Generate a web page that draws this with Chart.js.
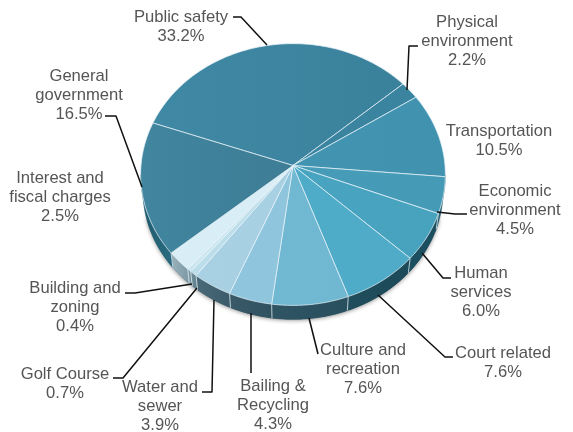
<!DOCTYPE html>
<html>
<head>
<meta charset="utf-8">
<style>
html,body{margin:0;padding:0;background:#fff}
#wrap{width:573px;height:432px;position:relative}
</style>
<script src="https://cdn.jsdelivr.net/npm/chart.js@4/dist/chart.umd.js"></script>
</head>
<body>
<div id="wrap"><canvas id="c" width="573" height="432"></canvas></div>
<script>
// Budget shares by function, clockwise from Public safety
const categories = [
  ['Public safety'],
  ['Physical', 'environment'],
  ['Transportation'],
  ['Economic', 'environment'],
  ['Human', 'services'],
  ['Court related'],
  ['Culture and', 'recreation'],
  ['Bailing &', 'Recycling'],
  ['Water and', 'sewer'],
  ['Golf Course'],
  ['Building and', 'zoning'],
  ['Interest and', 'fiscal charges'],
  ['General', 'government']
];
const shares = [33.2, 2.2, 10.5, 4.5, 6.0, 7.6, 7.6, 4.3, 3.9, 0.7, 0.4, 2.5, 16.5];

// Top face colours: [left, right] of a horizontal gradient
const faceColors = [
  ['#4089a5', '#39809a'], ['#3a84a0', '#3a84a0'], ['#4496b4', '#4092af'],
  ['#489fbb', '#459ab6'], ['#49a6c2', '#47a2be'], ['#4fadc9', '#4fabc7'],
  ['#72b9d3', '#6fb6d1'], ['#92c7de', '#8cc3db'], ['#a9d1e3', '#a5cfe1'],
  ['#bcdeeb', '#bcdeeb'], ['#cbe6f0', '#cbe6f0'], ['#d9eef6', '#d6ecf5'],
  ['#41859f', '#39758a']
];
// Side wall colours: [left, right]
const wallColors = [
  ['#1d4f60', '#1d4f60'], ['#1d4f60', '#1d4f60'], ['#1f5a6e', '#1f5a6e'],
  ['#2a6478', '#1c5265'], ['#1c4f60', '#1a4d5e'], ['#1f4d5c', '#1c4a59'],
  ['#2f5463', '#29505f'], ['#3a5a69', '#2f5160'], ['#4b6a79', '#3b5b6a'],
  ['#71909d', '#627f8c'], ['#7d99a5', '#71909d'], ['#9ab2bc', '#7f9ba7'],
  ['#1d5a6e', '#2a6b80']
];

// Where each label block is centred and the first line's middle
const labelAnchors = [
  [181, 17], [467, 22.5], [499, 131.5], [515, 191.5], [481, 273.5], [503, 353.5],
  [363, 350.5], [273, 386.5], [160, 387.5], [65, 374.5], [75, 288.5], [60, 178.5], [79, 76.5]
];
// Leader lines from the label to the pie, one polyline per slice
const leaderPaths = [
  [[233, 17], [241, 17], [267, 45]],
  [[418, 46], [409, 46], [407, 90]],
  [],
  [[467, 214], [455, 214], [437, 212]],
  [[451, 278], [443, 278], [422, 253]],
  [[453, 357], [445, 357], [378, 295]],
  [[318, 354], [309, 318]],
  [[251, 373], [251, 313]],
  [[202, 392], [212, 392], [214, 300]],
  [[113, 378], [123, 378], [197, 288]],
  [[125, 293], [135, 293], [192, 284]],
  [],
  [[105, 116], [116, 116], [142, 187]]
];

// Tilted-disc projection: a circle seen in perspective
const TILT = 0.857;      // vertical squash of the disc
const KEYSTONE = -0.069; // how much the near edge is enlarged
const DEPTH = 16;        // thickness of the disc in pixels
const BASE_SCALE = 0.985; // the underside sits further away, so it looks smaller

function project(el, angle, radius, drop) {
  const u = Math.cos(angle), v = Math.sin(angle);
  const w = 1 + KEYSTONE * v;
  return [el.x + radius * u / w, el.y + radius * TILT * v / w + (drop || 0)];
}

function tracePath(ctx, el, from, to, radius, drop, first) {
  const steps = Math.max(2, Math.ceil(Math.abs(to - from) * 60));
  for (let i = 0; i <= steps; i++) {
    const p = project(el, from + (to - from) * i / steps, radius, drop);
    if (i === 0 && first) ctx.moveTo(p[0], p[1]); else ctx.lineTo(p[0], p[1]);
  }
}

class PerspectiveArc extends Chart.ArcElement {
  draw(ctx) {
    const index = this.$context.dataIndex;
    const R = this.outerRadius;
    ctx.save();

    // Visible part of the side wall: the lower half of the rim
    const lo = Math.max(this.startAngle, 0.07);
    const hi = Math.min(this.endAngle, Math.PI - 0.07);
    if (hi > lo) {
      const pa = project(this, lo, R), pb = project(this, hi, R);
      const wall = ctx.createLinearGradient(Math.min(pa[0], pb[0]), 0, Math.max(pa[0], pb[0]), 0);
      wall.addColorStop(0, wallColors[index][0]);
      wall.addColorStop(1, wallColors[index][1]);
      ctx.beginPath();
      tracePath(ctx, this, lo, hi, R, 0, true);
      tracePath(ctx, this, hi, lo, R * BASE_SCALE, DEPTH, false);
      ctx.closePath();
      ctx.fillStyle = wall;
      ctx.fill();
      ctx.strokeStyle = wall;
      ctx.lineWidth = 0.6;
      ctx.stroke();
      // Light seam where a slice boundary meets the wall
      if (this.startAngle > 0.07 && this.startAngle < Math.PI - 0.07) {
        const s = project(this, this.startAngle, R);
        const b = project(this, this.startAngle, R * BASE_SCALE, DEPTH);
        ctx.beginPath();
        ctx.moveTo(s[0], s[1]);
        ctx.lineTo(b[0], b[1]);
        ctx.strokeStyle = 'rgba(235,245,250,0.75)';
        ctx.lineWidth = 1;
        ctx.stroke();
      }
    }

    // Top face of the slice
    const face = ctx.createLinearGradient(this.x - R, 0, this.x + R, 0);
    face.addColorStop(0, faceColors[index][0]);
    face.addColorStop(1, faceColors[index][1]);
    ctx.beginPath();
    ctx.moveTo(this.x, this.y);
    tracePath(ctx, this, this.startAngle, this.endAngle, R, 0, false);
    ctx.closePath();
    ctx.fillStyle = face;
    ctx.fill();
    ctx.strokeStyle = 'rgba(232,243,248,0.8)';
    ctx.lineWidth = 0.9;
    ctx.stroke();
    ctx.restore();
  }
}
PerspectiveArc.id = 'perspectiveArc';

class PerspectivePie extends Chart.PieController {}
PerspectivePie.id = 'perspectivePie';
PerspectivePie.defaults = { dataElementType: 'perspectiveArc' };
Chart.register(PerspectiveArc, PerspectivePie);

// Soft shadow under the disc
const groundShadow = {
  id: 'groundShadow',
  beforeDatasetsDraw(chart) {
    const el = chart.getDatasetMeta(0).data[0];
    const ctx = chart.ctx;
    const R = el.outerRadius;
    ctx.save();
    ctx.shadowColor = 'rgba(0,0,0,0.45)';
    ctx.shadowBlur = 4;
    ctx.shadowOffsetY = 1;
    ctx.fillStyle = '#2a4f5e';
    ctx.beginPath();
    tracePath(ctx, el, 0.3, Math.PI - 0.3, R * BASE_SCALE, DEPTH, true);
    tracePath(ctx, el, Math.PI - 0.3, 0.3, R * 0.97, 0, false);
    ctx.closePath();
    ctx.fill();
    ctx.restore();
  }
};

// Category captions with their percentage, and the leader lines
const sliceLabels = {
  id: 'sliceLabels',
  afterDatasetsDraw(chart) {
    const ctx = chart.ctx;
    ctx.save();
    ctx.strokeStyle = '#111';
    ctx.lineWidth = 1.5;
    ctx.lineJoin = 'round';
    leaderPaths.forEach(path => {
      if (!path.length) return;
      ctx.beginPath();
      path.forEach((p, i) => i ? ctx.lineTo(p[0], p[1]) : ctx.moveTo(p[0], p[1]));
      ctx.stroke();
    });
    ctx.fillStyle = '#555555';
    ctx.font = '16.6px "Liberation Sans", Arial, sans-serif';
    ctx.textAlign = 'center';
    ctx.textBaseline = 'middle';
    categories.forEach((lines, i) => {
      const rows = lines.concat(shares[i].toFixed(1) + '%');
      rows.forEach((row, r) => {
        ctx.fillText(row, labelAnchors[i][0], labelAnchors[i][1] + r * 19.2);
      });
    });
    ctx.restore();
  }
};

new Chart(document.getElementById('c'), {
  type: 'perspectivePie',
  data: {
    labels: categories.map(l => l.join(' ')),
    datasets: [{ data: shares, borderWidth: 0 }]
  },
  options: {
    responsive: false,
    animation: false,
    rotation: -70.5,
    layout: { padding: { left: 141, right: 128, top: 13.5, bottom: 114.5 } },
    plugins: { legend: { display: false }, tooltip: { enabled: false } }
  },
  plugins: [groundShadow, sliceLabels]
});
</script>
</body>
</html>
